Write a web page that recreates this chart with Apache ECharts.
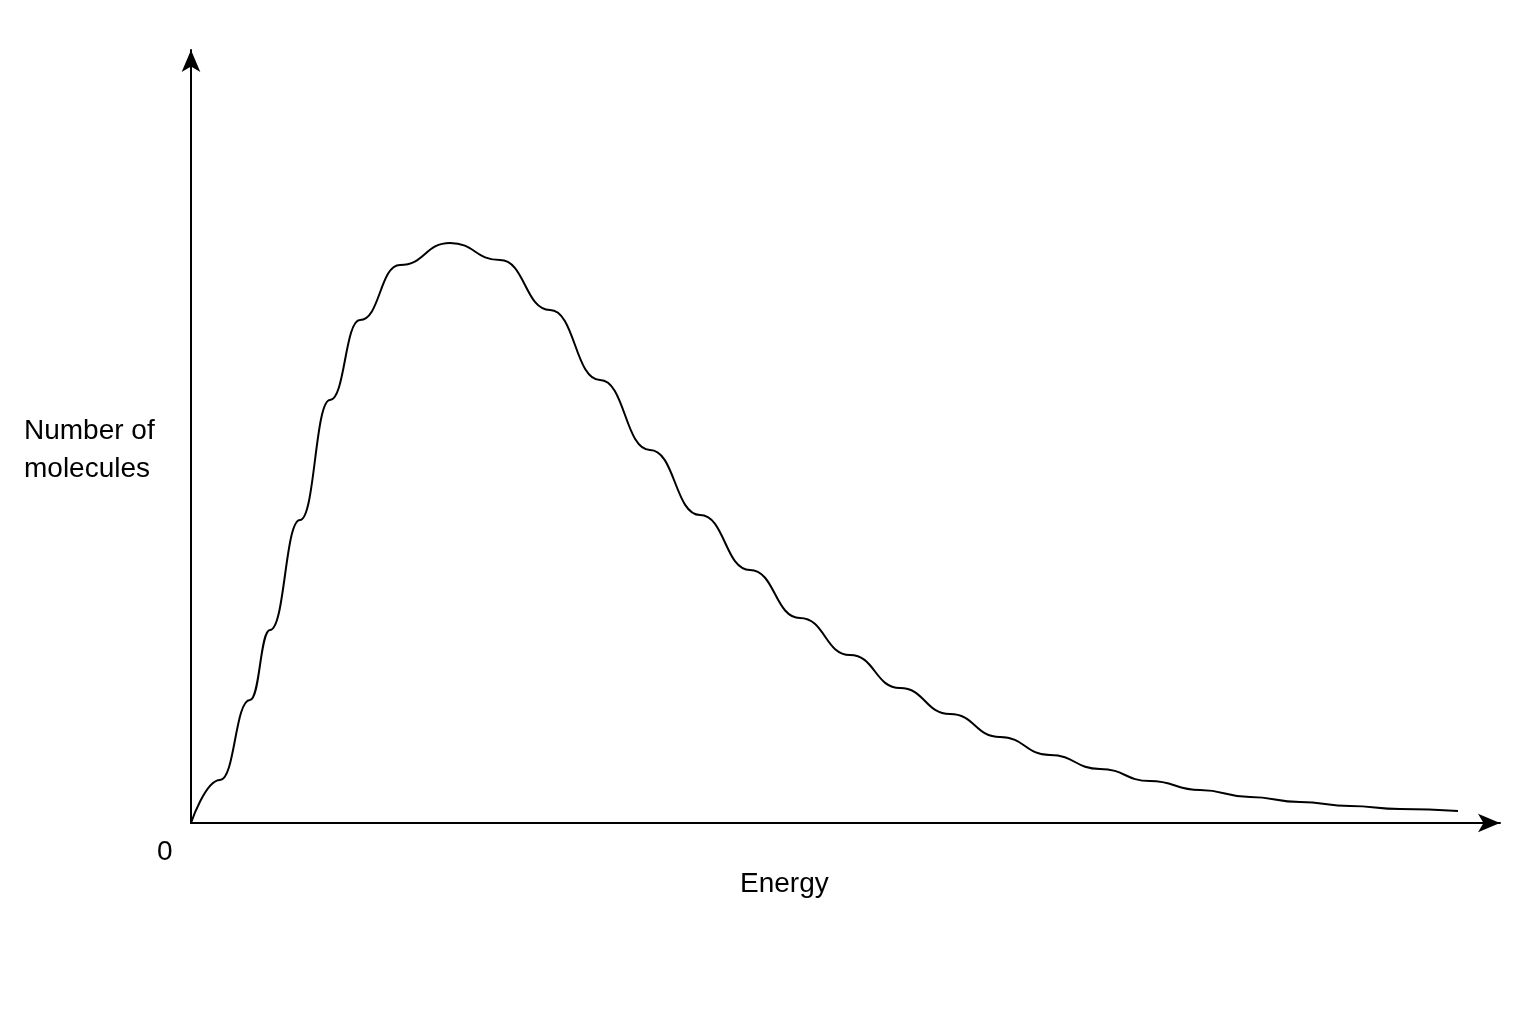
<!DOCTYPE html>
<html><head><meta charset="utf-8">
<script src="https://cdn.jsdelivr.net/npm/echarts@6/dist/echarts.min.js"></script>
<style>html,body{margin:0;padding:0;background:#fff}#c{width:1536px;height:1024px}</style>
</head><body><div id="c"></div>
<script>
const energy = [0,29,59,79,109,139,169,209,259,309,359,409,459,509,559,609,659,709,759,809,859,909,959,1009,1059,1109,1159,1209,1267];
const molecules = [0,43,123,193,303,423,503,558,580,563,513,443,373,308,253,205,168,135,109,86,68,54,42,33,26,21,17,14,12];
const xLabel = 'Energy';
const yLabel = 'Number of\nmolecules';
const originLabel = '0';
const chart = echarts.init(document.getElementById('c'));
chart.setOption({
  animation:false,
  grid:{left:191,top:50,right:36,bottom:201},
  xAxis:{type:'value',min:0,max:1309,splitLine:{show:false},axisTick:{show:false},axisLabel:{show:false},
    axisLine:{lineStyle:{color:'#000',width:2},symbol:['none','arrow'],symbolSize:[14,22]}},
  yAxis:{type:'value',min:0,max:773,splitLine:{show:false},axisTick:{show:false},axisLabel:{show:false},
    axisLine:{lineStyle:{color:'#000',width:2},symbol:['none','arrow'],symbolSize:[14,22]}},
  graphic:[
    {type:'text',left:24,top:412,style:{text:yLabel,fontSize:28,lineHeight:38,fill:'#000',fontFamily:'Liberation Sans'}},
    {type:'text',left:157,top:838,style:{text:originLabel,fontSize:28,fill:'#000',fontFamily:'Liberation Sans'}},
    {type:'text',left:740,top:870,style:{text:xLabel,fontSize:28,fill:'#000',fontFamily:'Liberation Sans'}}
  ],
  series:[{type:'line',smooth:0.5,smoothMonotone:'x',showSymbol:false,data:energy.map((e,i)=>[e,molecules[i]]),lineStyle:{color:'#000',width:2}}]
});
</script></body></html>
